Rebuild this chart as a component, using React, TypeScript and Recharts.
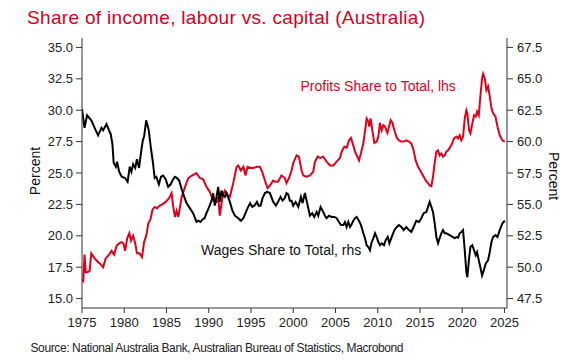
import { LineChart, Line, XAxis, YAxis } from "recharts";

const RED = "#e1001b";
const FONT = "'Liberation Sans', Arial, sans-serif";

// Profits share to total (lhs, percent)
const profitYears = [
  1975.0, 1975.15, 1975.3, 1975.45, 1975.65, 1975.9, 1976.1, 1976.5, 1976.9, 1977.1, 1977.5, 1977.8,
  1978.2, 1978.5, 1978.8, 1979.1, 1979.4, 1979.65, 1979.9, 1980.1, 1980.35, 1980.6, 1980.8, 1981.05,
  1981.3, 1981.5, 1981.8, 1982.1, 1982.35, 1982.6, 1982.85, 1983.1, 1983.35, 1983.6, 1983.9, 1984.2,
  1984.5, 1984.9, 1985.3, 1985.6, 1985.8, 1986.0, 1986.2, 1986.4, 1986.8, 1987.2, 1987.4, 1987.6,
  1988.0, 1988.3, 1988.55, 1988.95, 1989.34, 1989.73, 1990.13, 1990.52, 1990.92, 1991.12, 1991.31,
  1991.63, 1991.9, 1992.2, 1992.5, 1992.9, 1993.3, 1993.5, 1993.8, 1994.1, 1994.35, 1994.6, 1995.0,
  1995.3, 1995.7, 1996.05, 1996.33, 1996.65, 1996.96, 1997.24, 1997.63, 1997.9, 1998.2, 1998.6,
  1999.0, 1999.2, 1999.5, 1999.8, 2000.0, 2000.4, 2000.67, 2000.99, 2001.19, 2001.58, 2001.98,
  2002.37, 2002.57, 2002.89, 2003.2, 2003.56, 2003.95, 2004.35, 2004.74, 2005.14, 2005.53, 2005.73,
  2006.05, 2006.32, 2006.6, 2006.83, 2007.11, 2007.31, 2007.58, 2007.78, 2008.02, 2008.3, 2008.57,
  2008.69, 2008.89, 2009.0, 2009.16, 2009.36, 2009.6, 2009.88, 2010.07, 2010.27, 2010.47, 2010.67,
  2010.86, 2011.14, 2011.34, 2011.53, 2011.73, 2011.97, 2012.25, 2012.52, 2012.79, 2013.1, 2013.38,
  2013.7, 2013.98, 2014.25, 2014.49, 2014.77, 2015.04, 2015.36, 2015.68, 2015.95, 2016.15, 2016.35,
  2016.54, 2016.74, 2016.94, 2017.14, 2017.33, 2017.53, 2017.73, 2017.93, 2018.12, 2018.32, 2018.52,
  2018.8, 2019.03, 2019.31, 2019.51, 2019.7, 2019.9, 2020.1, 2020.3, 2020.49, 2020.61, 2020.81,
  2020.97, 2021.2, 2021.4, 2021.6, 2021.76, 2021.96, 2022.15, 2022.35, 2022.47, 2022.67, 2022.86,
  2023.06, 2023.26, 2023.46, 2023.65, 2023.93, 2024.17, 2024.44, 2024.76, 2025.04,
];
const profitShare = [
  16.5, 16.4, 18.5, 17.1, 17.1, 17.2, 18.6, 18.2, 17.9, 17.8, 17.5, 18.2,
  18.5, 18.8, 18.5, 19.2, 19.4, 19.5, 19.4, 18.8, 19.8, 20.2, 19.6, 20.0,
  19.4, 18.6, 18.6, 18.3, 19.5, 20.0, 21.0, 21.3, 22.1, 22.3, 22.2, 22.4,
  22.5, 22.7, 23.0, 23.4, 22.3, 21.5, 22.0, 21.5, 23.1, 23.9, 24.3, 24.6,
  24.8, 24.9, 25.0, 24.6, 24.5, 23.9, 23.5, 22.8, 22.7, 23.1, 21.6,
  23.1, 23.6, 23.3, 23.1, 24.2, 25.5, 25.6, 25.2, 25.5, 24.8, 25.5, 25.4,
  25.4, 25.5, 25.5, 25.1, 24.4, 23.8, 24.0, 24.4, 24.3, 24.3, 24.8,
  24.6, 24.2, 24.6, 25.2, 25.8, 26.4, 26.3, 25.2, 24.8, 24.7, 24.8,
  25.1, 25.9, 26.3, 26.2, 26.3, 25.9, 25.6, 25.6, 25.9, 26.2, 26.7,
  27.1, 27.0, 27.6, 27.8, 27.2, 26.7, 26.3, 26.0, 26.6, 27.4, 28.7,
  29.35, 29.1, 28.7, 29.35, 28.4, 27.4, 27.5, 27.9, 29.0, 28.4, 28.8,
  28.7, 28.2, 28.7, 29.2, 29.0, 28.4, 27.8, 27.6, 27.5, 27.5, 27.6,
  27.5, 27.35, 26.8, 26.0, 25.5, 25.2, 24.8, 24.4, 24.2, 24.0, 23.95,
  24.7, 25.8, 26.7, 26.8, 26.4, 26.55, 26.3, 26.4, 26.7, 26.8, 27.0,
  27.35, 27.75, 27.9, 27.75, 28.0, 27.6, 27.9, 29.35, 30.0, 29.75, 28.4,
  28.15, 28.95, 29.6, 29.5, 29.9, 29.6, 31.1, 32.55, 32.9, 32.55, 31.6,
  31.9, 31.1, 30.15, 29.75, 29.5, 28.7, 28.0, 27.6, 27.5,
];

// Wages share to total (rhs, percent)
const wageYears = [
  1975.0, 1975.3, 1975.6, 1976.1, 1976.5, 1976.9, 1977.3, 1977.5, 1977.9, 1978.2, 1978.4, 1978.6,
  1978.75, 1979.0, 1979.15, 1979.4, 1979.7, 1980.1, 1980.4, 1980.65, 1980.85, 1981.05, 1981.3, 1981.5,
  1981.75, 1982.0, 1982.2, 1982.35, 1982.6, 1982.9, 1983.15, 1983.4, 1983.6, 1983.8, 1984.1, 1984.35,
  1984.6, 1984.9, 1985.2, 1985.5, 1985.7, 1986.0, 1986.25, 1986.5, 1986.8, 1987.1, 1987.37, 1987.76,
  1988.15, 1988.55, 1988.75, 1989.02, 1989.26, 1989.5, 1989.73, 1990.05, 1990.33, 1990.52, 1990.72,
  1990.92, 1991.12, 1991.31, 1991.51, 1991.7, 1991.9, 1992.1, 1992.5, 1992.8, 1993.1, 1993.5, 1993.8,
  1994.1, 1994.35, 1994.6, 1994.9, 1995.15, 1995.4, 1995.7, 1995.9, 1996.13, 1996.37, 1996.65,
  1996.92, 1997.24, 1997.63, 1997.95, 1998.2, 1998.5, 1998.74, 1999.0, 1999.2, 1999.4, 1999.6,
  1999.8, 2000.0, 2000.28, 2000.6, 2000.91, 2001.11, 2001.38, 2001.58, 2001.78, 2001.98, 2002.25,
  2002.49, 2002.77, 2002.96, 2003.24, 2003.48, 2003.75, 2003.95, 2004.23, 2004.54, 2004.86, 2005.14,
  2005.41, 2005.65, 2005.93, 2006.12, 2006.32, 2006.52, 2006.72, 2006.9, 2007.11, 2007.3, 2007.5,
  2007.78, 2008.02, 2008.3, 2008.49, 2008.69, 2008.89, 2009.08, 2009.28, 2009.48, 2009.68, 2009.88,
  2010.07, 2010.27, 2010.47, 2010.74, 2010.94, 2011.18, 2011.38, 2011.65, 2011.97, 2012.25, 2012.52,
  2012.79, 2013.07, 2013.38, 2013.7, 2013.98, 2014.25, 2014.57, 2014.89, 2015.16, 2015.44, 2015.76,
  2015.95, 2016.15, 2016.35, 2016.54, 2016.74, 2016.94, 2017.14, 2017.33, 2017.53, 2017.73, 2017.93,
  2018.12, 2018.52, 2018.91, 2019.11, 2019.31, 2019.51, 2019.7, 2019.9, 2020.1, 2020.3, 2020.49,
  2020.61, 2020.81, 2020.97, 2021.2, 2021.4, 2021.6, 2021.76, 2021.96, 2022.15, 2022.35, 2022.55,
  2022.79, 2023.06, 2023.26, 2023.46, 2023.65, 2023.93, 2024.17, 2024.44, 2024.76, 2025.04,
];
const wageShare = [
  62.6, 61.1, 62.1, 61.7, 61.1, 60.5, 61.1, 60.9, 61.4, 60.9, 60.6, 59.8,
  58.3, 58.0, 58.4, 57.6, 57.2, 57.1, 56.8, 58.0, 57.6, 58.2, 57.9, 58.6,
  57.9, 59.2, 60.1, 60.4, 61.7, 60.9, 59.5, 58.3, 57.1, 57.2, 56.6, 57.2,
  57.3, 57.0, 56.4, 56.6, 56.9, 57.2, 57.1, 56.9, 56.2, 55.6, 55.1, 54.7,
  54.3, 53.6, 53.7, 53.6, 53.8, 53.9, 54.3, 54.8, 55.3, 55.9, 54.9,
  55.6, 56.4, 55.2, 56.1, 55.7, 55.6, 55.9, 55.2, 54.5, 54.1, 53.9, 53.7,
  53.9, 54.3, 54.7, 55.1, 54.8, 54.9, 55.2, 54.9, 54.9, 55.5, 55.9,
  56.0, 55.9, 55.2, 54.9, 55.2, 55.6, 55.3, 55.5, 55.9, 55.8, 55.3,
  55.3, 54.9, 55.2, 54.8, 55.6, 55.1, 55.9, 55.3, 54.7, 54.1, 54.3,
  54.0, 54.4, 54.1, 54.8, 54.5, 54.1, 53.9, 54.1, 54.0, 54.0, 53.9,
  53.6, 53.35, 53.35, 53.6, 53.2, 53.6, 53.2, 53.4, 53.7, 53.9, 54.0,
  53.7, 53.35, 52.7, 52.3, 51.75, 51.6, 51.35, 52.0, 52.3, 52.7, 52.4,
  52.0, 51.75, 51.9, 51.75, 52.15, 52.4, 51.9, 52.4, 52.95, 53.2, 53.35,
  53.2, 52.95, 53.2, 52.95, 52.8, 53.2, 53.7, 53.6, 53.9, 54.3, 54.4,
  54.8, 55.2, 54.8, 54.4, 53.5, 52.4, 51.9, 52.3, 52.7, 52.95, 52.7,
  52.7, 52.55, 52.4, 52.3, 52.4, 52.35, 52.7, 52.8, 52.95, 51.35, 49.6,
  49.2, 50.7, 51.6, 51.75, 51.35, 50.95, 51.2, 50.55, 50.0, 49.35, 49.75,
  50.3, 50.55, 51.2, 52.0, 52.4, 52.55, 52.4, 52.95, 53.5, 53.7,
];

const yearTicks = [1975, 1980, 1985, 1990, 1995, 2000, 2005, 2010, 2015, 2020, 2025];
const lhsTicks = [15, 17.5, 20, 22.5, 25, 27.5, 30, 32.5, 35];
const rhsTicks = [47.5, 50, 52.5, 55, 57.5, 60, 62.5, 65, 67.5];

const profitData = profitYears.map((year, i) => ({ year, profits: profitShare[i] }));
const wageData = wageYears.map((year, i) => ({ year, wages: wageShare[i] }));

const axisStroke = "#333";
const tickStyle = { fill: "#222", fontSize: 13, fontFamily: FONT };

export default function App() {
  return (
    <div style={{ position: "absolute", left: 0, top: 0, width: 583, height: 363, background: "#fff" }}>
      <LineChart width={583} height={363} margin={{ top: 38, right: 0, bottom: 25, left: 0 }}>
        <XAxis
          type="number"
          dataKey="year"
          domain={[1975, 2025.3]}
          ticks={yearTicks}
          allowDataOverflow
          height={30}
          stroke={axisStroke}
          tickSize={5}
          tickMargin={5}
          tick={tickStyle}
        />
        <YAxis
          yAxisId="lhs"
          orientation="left"
          domain={[14.25, 35.75]}
          ticks={lhsTicks}
          allowDataOverflow
          width={82}
          stroke={axisStroke}
          tickSize={6}
          tickMargin={3}
          tick={tickStyle}
          tickFormatter={(v: number) => v.toFixed(1)}
        />
        <YAxis
          yAxisId="rhs"
          orientation="right"
          domain={[46.75, 68.25]}
          ticks={rhsTicks}
          allowDataOverflow
          width={76}
          stroke={axisStroke}
          tickSize={6}
          tickMargin={4}
          tick={tickStyle}
          tickFormatter={(v: number) => v.toFixed(1)}
        />
        <Line
          yAxisId="lhs"
          data={profitData}
          dataKey="profits"
          type="linear"
          stroke={RED}
          strokeWidth={2}
          dot={false}
          isAnimationActive={false}
        />
        <Line
          yAxisId="rhs"
          data={wageData}
          dataKey="wages"
          type="linear"
          stroke="#000"
          strokeWidth={2}
          dot={false}
          isAnimationActive={false}
        />
      </LineChart>
      <svg
        width={583}
        height={363}
        style={{ position: "absolute", left: 0, top: 0, pointerEvents: "none" }}
        fontFamily={FONT}
      >
        <text x={27} y={24} fontSize={19} fill="#d6001c" textLength={398} lengthAdjust="spacing">
          Share of income, labour vs. capital (Australia)
        </text>
        <text x={300.5} y={91} fontSize={14} fill={RED}>
          Profits Share to Total, lhs
        </text>
        <text x={201} y={255} fontSize={14} fill="#111">
          Wages Share to Total, rhs
        </text>
        <text
          x={35}
          y={171}
          fontSize={14}
          fill="#111"
          textAnchor="middle"
          dominantBaseline="central"
          transform="rotate(-90 35 171)"
        >
          Percent
        </text>
        <text
          x={554}
          y={176}
          fontSize={14}
          fill="#111"
          textAnchor="middle"
          dominantBaseline="central"
          transform="rotate(90 554 176)"
        >
          Percent
        </text>
        <text x={30.5} y={351.5} fontSize={12} fill="#222" textLength={373} lengthAdjust="spacing">
          Source: National Australia Bank, Australian Bureau of Statistics, Macrobond
        </text>
      </svg>
    </div>
  );
}
